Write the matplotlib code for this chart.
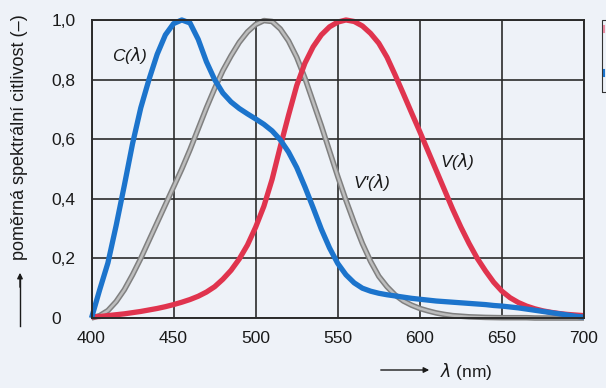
import matplotlib
matplotlib.use('Agg')
import matplotlib.pyplot as plt
from matplotlib.patches import Rectangle

plt.rcParams['font.family'] = ['Liberation Sans', 'DejaVu Sans']

# wavelength grid (nm), 5 nm steps
wavelengths = list(range(400, 705, 5))

# C(lambda) - blue
c_lambda = [0.0, 0.095, 0.185, 0.31, 0.445, 0.585, 0.705, 0.80, 0.885, 0.95,
            0.988, 1.0, 0.99, 0.935, 0.86, 0.80, 0.755, 0.725, 0.703, 0.685,
            0.668, 0.65, 0.628, 0.598, 0.557, 0.505, 0.44, 0.37, 0.298, 0.235,
            0.183, 0.145, 0.118, 0.10, 0.09, 0.083, 0.078, 0.074, 0.07, 0.066,
            0.063, 0.06, 0.057, 0.055, 0.053, 0.051, 0.049, 0.047, 0.045, 0.042,
            0.04, 0.037, 0.034, 0.03, 0.026, 0.022, 0.018, 0.014, 0.01, 0.006,
            0.003]

# V'(lambda) - grey (scotopic)
v_scot = [0.0, 0.008, 0.025, 0.055, 0.095, 0.145, 0.20, 0.26, 0.32, 0.38,
          0.44, 0.50, 0.565, 0.635, 0.705, 0.77, 0.83, 0.88, 0.925, 0.96,
          0.985, 0.998, 0.995, 0.97, 0.93, 0.875, 0.805, 0.725, 0.645, 0.56,
          0.475, 0.395, 0.32, 0.25, 0.19, 0.14, 0.105, 0.077, 0.057, 0.043,
          0.032, 0.024, 0.017, 0.012, 0.008, 0.006, 0.004, 0.003, 0.002, 0.0015,
          0.001, 0.001, 0.001, 0.001, 0.0, 0.0, 0.0, 0.0, 0.0, 0.0,
          0.0]

# V(lambda) - red (photopic)
v_phot = [0.004, 0.005, 0.008, 0.011, 0.014, 0.018, 0.022, 0.027, 0.032, 0.038,
          0.045, 0.053, 0.062, 0.073, 0.087, 0.105, 0.13, 0.16, 0.198, 0.245,
          0.305, 0.375, 0.465, 0.575, 0.68, 0.78, 0.855, 0.91, 0.95, 0.977,
          0.993, 1.0, 0.995, 0.98, 0.955, 0.922, 0.875, 0.815, 0.752, 0.688,
          0.625, 0.56, 0.495, 0.43, 0.365, 0.305, 0.25, 0.20, 0.158, 0.12,
          0.09, 0.068, 0.052, 0.04, 0.031, 0.024, 0.019, 0.015, 0.012, 0.01,
          0.008]

x_ticks = [400, 450, 500, 550, 600, 650, 700]
y_ticks = [0, 0.2, 0.4, 0.6, 0.8, 1.0]
y_tick_labels = ['0', '0,2', '0,4', '0,6', '0,8', '1,0']

bg = '#eef2f8'
grid_col = '#2b2b2b'
ink = '#1a1a1a'

fig = plt.figure(figsize=(6.06, 3.88), dpi=100, facecolor=bg)
ax = fig.add_axes([0.151, 0.1804, 0.8127, 0.7681], facecolor=bg)

ax.set_xlim(400, 700)
ax.set_ylim(0, 1)
ax.set_xticks(x_ticks)
ax.set_yticks(y_ticks)
ax.set_yticklabels(y_tick_labels)
ax.grid(True, color=grid_col, lw=1.2)
ax.set_axisbelow(True)
for s in ax.spines.values():
    s.set_color(grid_col)
    s.set_linewidth(1.4)

ax.tick_params(axis='both', length=0, labelsize=12.5, colors=ink)
ax.tick_params(axis='x', pad=9)
ax.tick_params(axis='y', pad=29)
for lab in ax.get_yticklabels():
    lab.set_horizontalalignment('left')

# curves
line_kw = dict(clip_on=False, solid_capstyle='butt', solid_joinstyle='round')
ax.plot(wavelengths, v_scot, color='#808080', lw=4.0, **line_kw)
ax.plot(wavelengths, v_scot, color='#bdbdbd', lw=1.8, **line_kw)
ax.plot(wavelengths, v_phot, color='#e0344e', lw=3.8, **line_kw)
ax.plot(wavelengths, c_lambda, color='#1c74cc', lw=3.8, **line_kw)

# curve labels
lab_kw = dict(fontsize=12.5, fontstyle='italic', color=ink, ha='center', va='center')
ax.text(423.5, 0.88, r'C($\lambda$)', **lab_kw)
ax.text(571, 0.455, r"V'($\lambda$)", **lab_kw)
ax.text(622.5, 0.525, r'V($\lambda$)', **lab_kw)

# axis titles with arrows
fig.text(20 / 606, 1 - 137 / 388, 'poměrná spektrální citlivost (–)', rotation=90,
         fontsize=13, color=ink, ha='center', va='center')
fig.add_artist(plt.Line2D([20 / 606, 20 / 606], [1 - 326 / 388, 1 - 276 / 388],
                          color=ink, lw=1.0))
ax.annotate('', xy=(20 / 606, 1 - 270 / 388), xytext=(20 / 606, 1 - 290 / 388),
            xycoords='figure fraction',
            arrowprops=dict(arrowstyle='-|>', color=ink, lw=1.0,
                            mutation_scale=8))
ax.annotate('', xy=(432 / 606, 1 - 370 / 388), xytext=(378 / 606, 1 - 370 / 388),
            xycoords='figure fraction',
            arrowprops=dict(arrowstyle='-|>', color=ink, lw=1.0,
                            mutation_scale=8))
fig.text(440 / 606, 1 - 371 / 388, r'$\lambda$ (nm)', fontsize=12.5,
         color=ink, ha='left', va='center')

# cut-off legend box at right edge
fig.add_artist(Rectangle((602 / 606, 1 - 92 / 388), 10 / 606, 72 / 388,
                         transform=fig.transFigure, fill=False,
                         edgecolor='#333333', lw=0.8))
fig.add_artist(plt.Line2D([604 / 606, 604 / 606], [1 - 26 / 388, 1 - 32 / 388],
                          color='#e88aa0', lw=1.5))
fig.add_artist(plt.Line2D([604 / 606, 604 / 606], [1 - 70 / 388, 1 - 76 / 388],
                          color='#1c74cc', lw=1.5))

fig.savefig('out.png', dpi=100, facecolor=bg)
